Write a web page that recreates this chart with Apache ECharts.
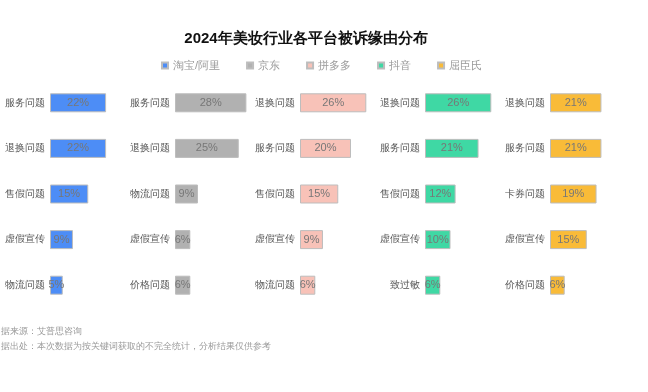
<!DOCTYPE html>
<html><head><meta charset="utf-8">
<script src="https://cdn.jsdelivr.net/npm/echarts@6/dist/echarts.min.js"></script>
<style>html,body{margin:0;padding:0;background:#fff}#c{width:648px;height:392px}</style>
</head><body><div id="c"></div>
<script>
const title = '2024年美妆行业各平台被诉缘由分布';
const platforms = ['淘宝/阿里', '京东', '拼多多', '抖音', '屈臣氏'];
const colors = ['#4d8df6', '#b1b1b1', '#f8c2b8', '#3fd8a4', '#f9bb38'];
const catsTaobao = ['服务问题', '退换问题', '售假问题', '虚假宣传', '物流问题'];
const valsTaobao = [22, 22, 15, 9, 5];
const catsJD = ['服务问题', '退换问题', '物流问题', '虚假宣传', '价格问题'];
const valsJD = [28, 25, 9, 6, 6];
const catsPDD = ['退换问题', '服务问题', '售假问题', '虚假宣传', '物流问题'];
const valsPDD = [26, 20, 15, 9, 6];
const catsDouyin = ['退换问题', '服务问题', '售假问题', '虚假宣传', '致过敏'];
const valsDouyin = [26, 21, 12, 10, 6];
const catsWatsons = ['退换问题', '服务问题', '卡券问题', '虚假宣传', '价格问题'];
const valsWatsons = [21, 21, 19, 15, 6];
const footer1 = '据来源：艾普思咨询';
const footer2 = '据出处：本次数据为按关键词获取的不完全统计，分析结果仅供参考';

const allCats = [catsTaobao, catsJD, catsPDD, catsDouyin, catsWatsons];
const allVals = [valsTaobao, valsJD, valsPDD, valsDouyin, valsWatsons];

const grids = [], xAxes = [], yAxes = [], series = [];
for (let i = 0; i < 5; i++) {
  grids.push({left: 50 + 125 * i, width: 102, top: 80, height: 228});
  xAxes.push({type: 'value', gridIndex: i, min: 0, max: 40, show: false});
  yAxes.push({type: 'category', gridIndex: i, data: allCats[i], inverse: true,
    axisLine: {show: false}, axisTick: {show: false}, splitLine: {show: false},
    axisLabel: {color: '#555', fontSize: 10, margin: 5}});
  series.push({type: 'bar', name: platforms[i], xAxisIndex: i, yAxisIndex: i,
    data: allVals[i], barWidth: 19,
    itemStyle: {color: colors[i], borderColor: '#bdbdbd', borderWidth: 1},
    label: {show: true, position: 'inside', formatter: '{c}%', color: '#777', fontSize: 11}});
}

const chart = echarts.init(document.getElementById('c'), null, {renderer: 'canvas'});
chart.setOption({
  animation: false,
  title: {text: title, left: 301, top: 26, textAlign: 'center',
    textStyle: {fontSize: 15, fontWeight: 'bold', color: '#111'}},
  legend: {data: platforms, left: 156, top: 55, icon: 'rect', itemWidth: 6, itemHeight: 6,
    itemGap: 26, textStyle: {color: '#999', fontSize: 11}},
  grid: grids, xAxis: xAxes, yAxis: yAxes, series: series,
  graphic: [
    {type: 'text', left: 1, top: 327, style: {text: footer1, fill: '#999', fontSize: 8.6}},
    {type: 'text', left: 1, top: 342, style: {text: footer2, fill: '#999', fontSize: 8.6}}
  ]
});
</script></body></html>
